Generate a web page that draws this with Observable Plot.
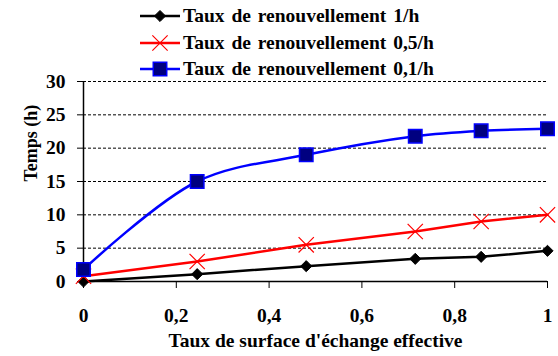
<!DOCTYPE html>
<html><head><meta charset="utf-8">
<script src="https://cdn.jsdelivr.net/npm/d3@7"></script>
<script src="https://cdn.jsdelivr.net/npm/@observablehq/plot@0.6"></script>
<style>
body{margin:0;background:#fff;}
#wrap{position:relative;width:558px;height:356px;font-family:"Liberation Serif",serif;font-weight:bold;color:#000;}
#legend{position:absolute;left:140px;top:3px;}
.row{display:flex;align-items:center;height:26.4px;font-size:19.5px;word-spacing:2px;white-space:pre;}
.row svg{margin-right:3px;}
</style></head><body><div id="wrap"><div id="chart"></div><div id="legend"></div></div>
<script>
const xValues = [0, 0.245, 0.48, 0.715, 0.857, 1];
const seriesNames = ["Taux de renouvellement 1/h", "Taux de renouvellement 0,5/h", "Taux de renouvellement 0,1/h"];
const rate1 = [0, 1.1, 2.3, 3.4, 3.7, 4.6];
const rate05 = [0.8, 3.0, 5.5, 7.5, 9.0, 10.0];
const rate01 = [1.8, 15.0, 19.0, 21.8, 22.6, 22.9];
const yTicks = [0, 5, 10, 15, 20, 25, 30];
const xTicks = [0, 0.2, 0.4, 0.6, 0.8, 1];
const xTitle = "Taux de surface d'échange effective";
const yTitle = "Temps (h)";

const styles = [
  {stroke: "#000000", symbol: "diamond2", fill: "#000000", r: 5, mstroke: "#000000", sw: 1},
  {stroke: "#ff0000", symbol: "times", fill: "none", r: 7, mstroke: "#ff0000", sw: 1.2},
  {stroke: "#0000ff", symbol: "square", fill: "#000080", r: 7.6, mstroke: "#0000ff", sw: 1.5}
];
const seriesVals = [rate1, rate05, rate01];
const data = seriesVals.flatMap((vals, k) => xValues.map((x, i) => ({x, y: vals[i], s: k})));
const fmt = d => String(d).replace(".", ",");
const font = '"Liberation Serif", serif';

const marks = [
  Plot.gridY(yTicks.slice(1), {stroke: "#000", strokeOpacity: 1, strokeDasharray: "3,2", strokeWidth: 1}),
  Plot.ruleX([0], {y1: 0, y2: 30, stroke: "#000", strokeWidth: 1.5}),
  Plot.ruleY([0], {stroke: "#000", strokeWidth: 1.5}),
  Plot.axisX({ticks: xTicks, tickFormat: fmt, tickSize: 7, tickPadding: 20, label: null, fontSize: 19.5, fontFamily: font, fontWeight: "bold"}),
  Plot.axisY({ticks: yTicks, tickSize: 6, tickPadding: 12, label: null, fontSize: 19.5, fontFamily: font, fontWeight: "bold"}),
  Plot.text([xTitle], {frameAnchor: "bottom", dy: 65, fontSize: 19.5, fontWeight: "bold", fontFamily: font}),
  Plot.text([yTitle], {frameAnchor: "left", dx: -52, rotate: -90, fontSize: 18, fontWeight: "bold", fontFamily: font})
];
styles.forEach((st, k) => {
  const d = data.filter(p => p.s === k);
  marks.push(Plot.line(d, {x: "x", y: "y", stroke: st.stroke, strokeWidth: 2.5, curve: k === 2 ? "catmull-rom" : "linear"}));
  marks.push(Plot.dot(d, {x: "x", y: "y", symbol: st.symbol, r: st.r, fill: st.fill, stroke: st.mstroke, strokeWidth: st.sw}));
});

const chart = Plot.plot({
  width: 558, height: 356,
  marginLeft: 83, marginRight: 11, marginTop: 81, marginBottom: 75,
  style: {fontFamily: font, fontWeight: "bold", fontSize: "19px", background: "white", color: "black", overflow: "visible"},
  x: {domain: [0, 1], axis: null},
  y: {domain: [0, 30], axis: null},
  marks
});
document.getElementById("chart").append(chart);

const legend = document.getElementById("legend");
styles.forEach((st, k) => {
  const row = document.createElement("div");
  row.className = "row";
  const sym = {diamond2: d3.symbolDiamond2, times: d3.symbolTimes, square: d3.symbolSquare}[st.symbol];
  const path = d3.symbol(sym, Math.PI * st.r * st.r)();
  row.innerHTML = `<svg width="40" height="20"><line x1="0" x2="40" y1="10" y2="10" stroke="${st.stroke}" stroke-width="2.5"/><path transform="translate(20,10)" d="${path}" fill="${st.fill}" stroke="${st.mstroke}" stroke-width="${st.sw}"/></svg>`;
  const span = document.createElement("span");
  span.textContent = seriesNames[k];
  row.append(span);
  legend.append(row);
});
</script></body></html>
